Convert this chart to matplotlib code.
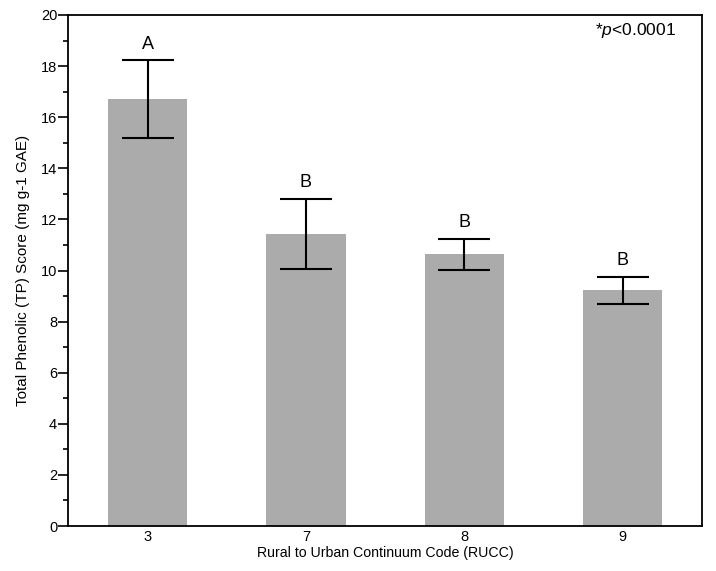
import matplotlib
matplotlib.use("Agg")
import matplotlib.pyplot as plt
from matplotlib.ticker import MultipleLocator

plt.rcParams['font.family'] = ['Liberation Sans', 'DejaVu Sans']
plt.rcParams['mathtext.fontset'] = 'custom'
plt.rcParams['mathtext.it'] = 'Liberation Sans:italic'
plt.rcParams['mathtext.rm'] = 'Liberation Sans'

categories = ['3', '7', '8', '9']
means = [16.70, 11.43, 10.64, 9.22]
errors = [1.53, 1.37, 0.61, 0.53]
letters = ['A', 'B', 'B', 'B']

fig = plt.figure(figsize=(7.16, 5.71), dpi=100)
ax = fig.add_axes([68.3 / 716, 45 / 571, 633.7 / 716, 511 / 571])

x = list(range(len(categories)))
ax.bar(x, means, width=0.5, color='#ababab', zorder=1)
ax.errorbar(x, means, yerr=errors, fmt='none', ecolor='black', elinewidth=1.5,
            capsize=19, capthick=1.5, zorder=2)
for xi, m, e, l in zip(x, means, errors, letters):
    ax.text(xi, m + e + 0.3, l, ha='center', va='bottom', fontsize=13)

ax.set_xlim(-0.5, 3.5)
ax.set_ylim(0, 20)
ax.set_xticks(x)
ax.set_xticklabels(categories, fontsize=10.5)
ax.tick_params(axis='x', length=0, pad=3)
ax.yaxis.set_major_locator(MultipleLocator(2))
ax.yaxis.set_minor_locator(MultipleLocator(1))
ax.tick_params(axis='y', which='major', length=7, width=1.2, labelsize=10.5, direction='out', pad=1)
ax.tick_params(axis='y', which='minor', length=3.5, width=1.2, direction='out')
for s in ax.spines.values():
    s.set_linewidth(1.3)

ax.set_xlabel('Rural to Urban Continuum Code (RUCC)', fontsize=10.2, labelpad=1)
ax.set_ylabel('Total Phenolic (TP) Score (mg g-1 GAE)', fontsize=11, labelpad=8)
ax.text(0.959, 0.988, r'*$\it{p}$<0.0001', transform=ax.transAxes, ha='right', va='top', fontsize=12.5)

fig.savefig('out.png', dpi=100)
